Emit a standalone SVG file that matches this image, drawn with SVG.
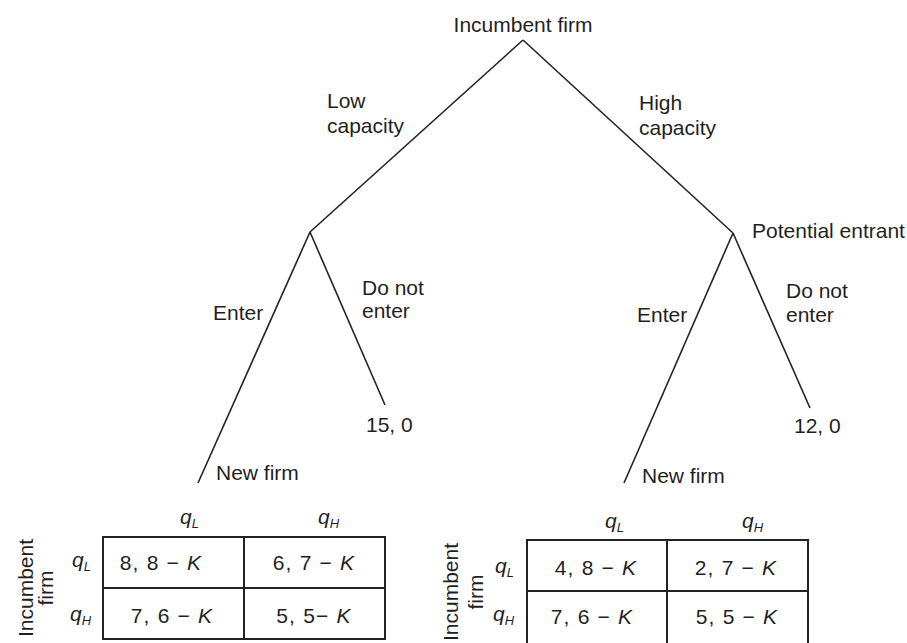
<svg xmlns="http://www.w3.org/2000/svg" width="907" height="643" viewBox="0 0 907 643">
<style>
  text { font-family: "Liberation Sans", Arial, sans-serif; font-size: 21px; fill: #1f1f1f; }
  .q { font-style: italic; font-size: 21px; }
  .sub { font-size: 13px; font-style: italic; }
  .cell { font-size: 21px; letter-spacing: 1.2px; text-anchor: middle; }
  .edge { stroke: #222; stroke-width: 1.6; fill: none; }
  .tbl { stroke: #222; stroke-width: 2; fill: #fff; }
</style>
<rect width="907" height="643" fill="#fff"/>
<g id="connectors">
  <line class="edge" x1="523" y1="40" x2="310" y2="232"/>
  <line class="edge" x1="523" y1="40" x2="733" y2="233"/>
  <line class="edge" x1="310" y1="232" x2="198" y2="483"/>
  <line class="edge" x1="310" y1="232" x2="385" y2="405"/>
  <line class="edge" x1="733" y1="233" x2="624" y2="483"/>
  <line class="edge" x1="733" y1="233" x2="810" y2="408"/>
</g>
<g id="edge-labels">
  <text x="327" y="108">Low</text>
  <text x="327" y="133">capacity</text>
  <text x="639" y="110">High</text>
  <text x="639" y="135">capacity</text>
  <text x="213" y="320">Enter</text>
  <text x="362" y="295">Do not</text>
  <text x="362" y="318">enter</text>
  <text x="637" y="322">Enter</text>
  <text x="786" y="298">Do not</text>
  <text x="786" y="322">enter</text>
</g>
<g id="node-root"><text x="523" y="32" text-anchor="middle">Incumbent firm</text></g>
<g id="node-entrant"><text x="752" y="238">Potential entrant</text></g>
<g id="node-payoff-left"><text x="366" y="432">15, 0</text></g>
<g id="node-payoff-right"><text x="794" y="433">12, 0</text></g>
<g id="node-newfirm-left"><text x="216" y="480">New firm</text></g>
<g id="node-newfirm-right"><text x="642" y="483">New firm</text></g>
<g id="table-left">
  <rect class="tbl" x="103" y="537" width="282" height="102"/>
  <line class="tbl" x1="244" y1="537" x2="244" y2="639"/>
  <line class="tbl" x1="103" y1="588" x2="385" y2="588"/>
  <text class="q" x="180" y="524">q<tspan class="sub" dy="4">L</tspan></text>
  <text class="q" x="318" y="524">q<tspan class="sub" dy="4">H</tspan></text>
  <text class="q" x="72" y="567">q<tspan class="sub" dy="4">L</tspan></text>
  <text class="q" x="70" y="621">q<tspan class="sub" dy="4">H</tspan></text>
  <text transform="translate(33,588) rotate(-90)" text-anchor="middle">Incumbent</text>
  <text transform="translate(53,588) rotate(-90)" text-anchor="middle">firm</text>
  <text class="cell" x="161" y="570">8, 8 − <tspan font-style="italic">K</tspan></text>
  <text class="cell" x="314" y="570">6, 7 − <tspan font-style="italic">K</tspan></text>
  <text class="cell" x="172" y="623">7, 6 − <tspan font-style="italic">K</tspan></text>
  <text class="cell" x="314" y="623">5, 5− <tspan font-style="italic">K</tspan></text>
</g>
<g id="table-right">
  <rect class="tbl" x="527" y="540" width="281" height="104"/>
  <line class="tbl" x1="667" y1="540" x2="667" y2="643"/>
  <line class="tbl" x1="527" y1="591" x2="808" y2="591"/>
  <text class="q" x="605" y="528">q<tspan class="sub" dy="4">L</tspan></text>
  <text class="q" x="742" y="528">q<tspan class="sub" dy="4">H</tspan></text>
  <text class="q" x="495" y="573">q<tspan class="sub" dy="4">L</tspan></text>
  <text class="q" x="493" y="621">q<tspan class="sub" dy="4">H</tspan></text>
  <text transform="translate(458,592) rotate(-90)" text-anchor="middle">Incumbent</text>
  <text transform="translate(483,592) rotate(-90)" text-anchor="middle">firm</text>
  <text class="cell" x="596" y="575">4, 8 − <tspan font-style="italic">K</tspan></text>
  <text class="cell" x="736" y="575">2, 7 − <tspan font-style="italic">K</tspan></text>
  <text class="cell" x="592" y="624">7, 6 − <tspan font-style="italic">K</tspan></text>
  <text class="cell" x="737" y="624">5, 5 − <tspan font-style="italic">K</tspan></text>
</g>
</svg>
